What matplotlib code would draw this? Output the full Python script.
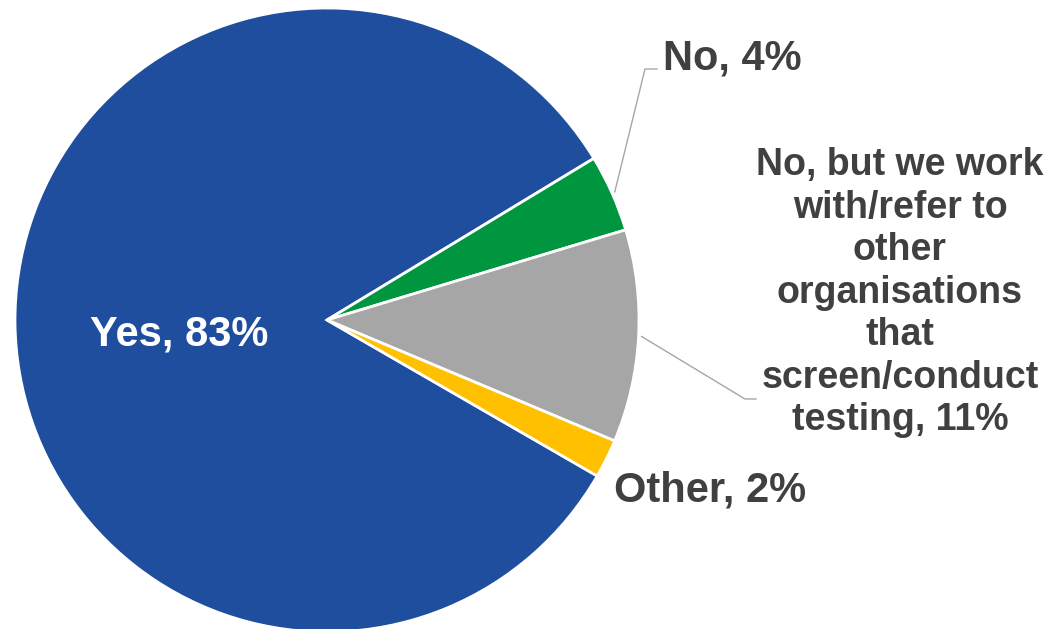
import numpy as np
import matplotlib.pyplot as plt

plt.rcParams['font.family'] = ['Liberation Sans', 'DejaVu Sans']

labels = ['Yes', 'No', 'No, but we work\nwith/refer to\nother\norganisations\nthat\nscreen/conduct\ntesting', 'Other']
values = [83, 4, 11, 2]
colors = ['#1F4E9F', '#00963F', '#A6A6A6', '#FFC000']

W, H = 1051, 629
fig = plt.figure(figsize=(W / 100, H / 100), dpi=100)
ax = fig.add_axes([0, 0, 1, 1])

cx, cy, r = 327, 309, 312
wedges, _ = ax.pie(values, colors=colors, startangle=-30, counterclock=False,
                   center=(cx, cy), radius=r,
                   wedgeprops=dict(edgecolor='white', linewidth=2))
ax.set_xlim(0, W)
ax.set_ylim(0, H)
ax.set_aspect('equal')
ax.axis('off')

txt = '#404040'
lab = [f'{l}, {v}%' for l, v in zip(labels, values)]

ax.text(179, 284, lab[0], color='white', fontsize=30, fontweight='bold',
        ha='center', va='baseline')
ax.text(732, 560, lab[1], color=txt, fontsize=30, fontweight='bold',
        ha='center', va='baseline')
ax.text(614, 127, lab[3], color=txt, fontsize=30, fontweight='bold',
        ha='left', va='baseline')
ax.text(900, 199, lab[2], color=txt, fontsize=27, fontweight='bold',
        ha='center', va='baseline', linespacing=1.23, multialignment='center')


def edge_point(w):
    a = np.deg2rad((w.theta1 + w.theta2) / 2)
    return cx + (r + 3) * np.cos(a), cy + (r + 3) * np.sin(a)


# leader lines
x0, y0 = edge_point(wedges[1])
ax.plot([x0, 645, 657], [y0, 560, 560], color='#A6A6A6', lw=1)
x0, y0 = edge_point(wedges[2])
ax.plot([x0, 745, 756], [y0, 230, 230], color='#A6A6A6', lw=1)

plt.savefig('out.png', dpi=100)
plt.close()
